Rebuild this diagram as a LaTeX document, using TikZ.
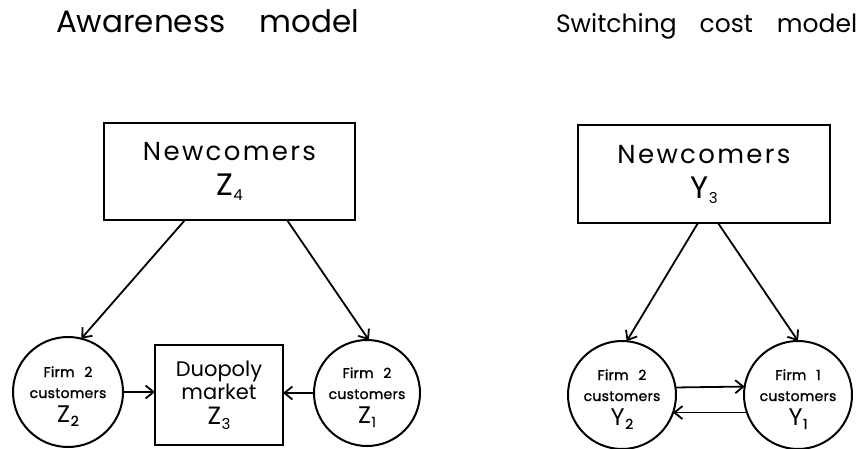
\documentclass[tikz,border=0pt]{standalone}
\usepackage{fontspec}
\setmainfont{Poppins}
\usetikzlibrary{arrows.meta,calc}

% letter with a lowered subscript: {letter}{index}{letter size}{index size}{drop}
\newcommand\varsub[5]{{\normalfont\fontsize{#3}{#3}\selectfont #1}\kern0.5pt\raisebox{-#5}{\fontsize{#4}{#4}\selectfont #2}}
% invisible strut that pushes a circle's text block down
\newcommand\topstrut{\rule{0pt}{19pt}}

\tikzset{
  every node/.style={inner sep=0pt, outer sep=0pt, text=black},
  heading/.style={font=\fontsize{31}{31}\selectfont, anchor=base west},
  heading2/.style={font=\fontsize{25}{25}\selectfont, anchor=base west},
  bigbox/.style={draw, line width=2.2pt, align=center,
    minimum width=251pt, minimum height=97pt,
    font=\fontsize{26}{35}\selectfont\addfontfeatures{LetterSpace=9}},
  marketbox/.style={draw, line width=2.2pt, align=center,
    minimum width=128pt, minimum height=100pt, font=\fontsize{21}{23}\selectfont},
  cust/.style={draw, circle, line width=2pt, minimum size=110pt, align=center,
    font=\fontsize{14}{21}\selectfont\addfontfeatures{LetterSpace=2,FakeBold=1.2}},
  link/.style={line width=1.8pt, -{Straight Barb[length=8pt,width=13pt]}},
}

\begin{document}
\begin{tikzpicture}[x=1pt,y=-1pt]
\useasboundingbox[fill=white] (0,0) rectangle (860,449);

% headings
\node[heading]  (t1) at (56,33) {Awareness\hspace{34pt}model};
\node[heading2] (t2) at (556,33) {Switching\hspace{23pt}cost\hspace{24pt}model};

% awareness model
\node[bigbox] (Z4) at (229.5,171.5) {Newcomers\\ \varsub{Z}{4}{31}{15}{5pt}};
\node[cust] (Z2) at (68,392)
  {\topstrut Firm\hspace{0.7em}2\\customers\\[3pt] \varsub{Z}{2}{24}{14}{4pt}};
\node[cust, minimum size=106pt] (Z1) at (367,393)
  {\topstrut Firm\hspace{0.7em}2\\customers\\[3pt] \varsub{Z}{1}{24}{14}{4pt}};
\node[marketbox] (Z3) at (219,395) {Duopoly\\market\\[2pt] \varsub{Z}{3}{25}{15}{5pt}};

\draw[link] ($(Z4.south)+(-44.5,0)$) -- (Z2.76);
\draw[link] ($(Z4.south)+(57.5,0)$) -- (Z1.88);
\draw[link] (Z2.east) -- (Z2.east -| Z3.west);
\draw[link] (Z1.west) -- (Z1.west -| Z3.east);

% switching cost model
\node[bigbox, minimum width=252pt, minimum height=98pt] (Y3) at (704,174)
  {Newcomers\\ \varsub{Y}{3}{31}{15}{5pt}};
\node[cust, minimum size=108pt] (Y2) at (622,395)
  {\topstrut Firm\hspace{0.7em}2\\customers\\[3pt] \varsub{Y}{2}{24}{14}{4pt}};
\node[cust, minimum size=108pt] (Y1) at (798,395)
  {\topstrut Firm\hspace{0.7em}1\\customers\\[3pt] \varsub{Y}{1}{24}{14}{4pt}};

\draw[link] ($(Y3.south)+(-6,0)$) -- (Y2.85);
\draw[link] ($(Y3.south)+(14,0)$) -- (Y1.north);
\draw[link] (Y2.8.5) -- (Y1.171.5);
\draw[link] (Y1.199.47) -- (Y2.-19.47);
\end{tikzpicture}
\end{document}
